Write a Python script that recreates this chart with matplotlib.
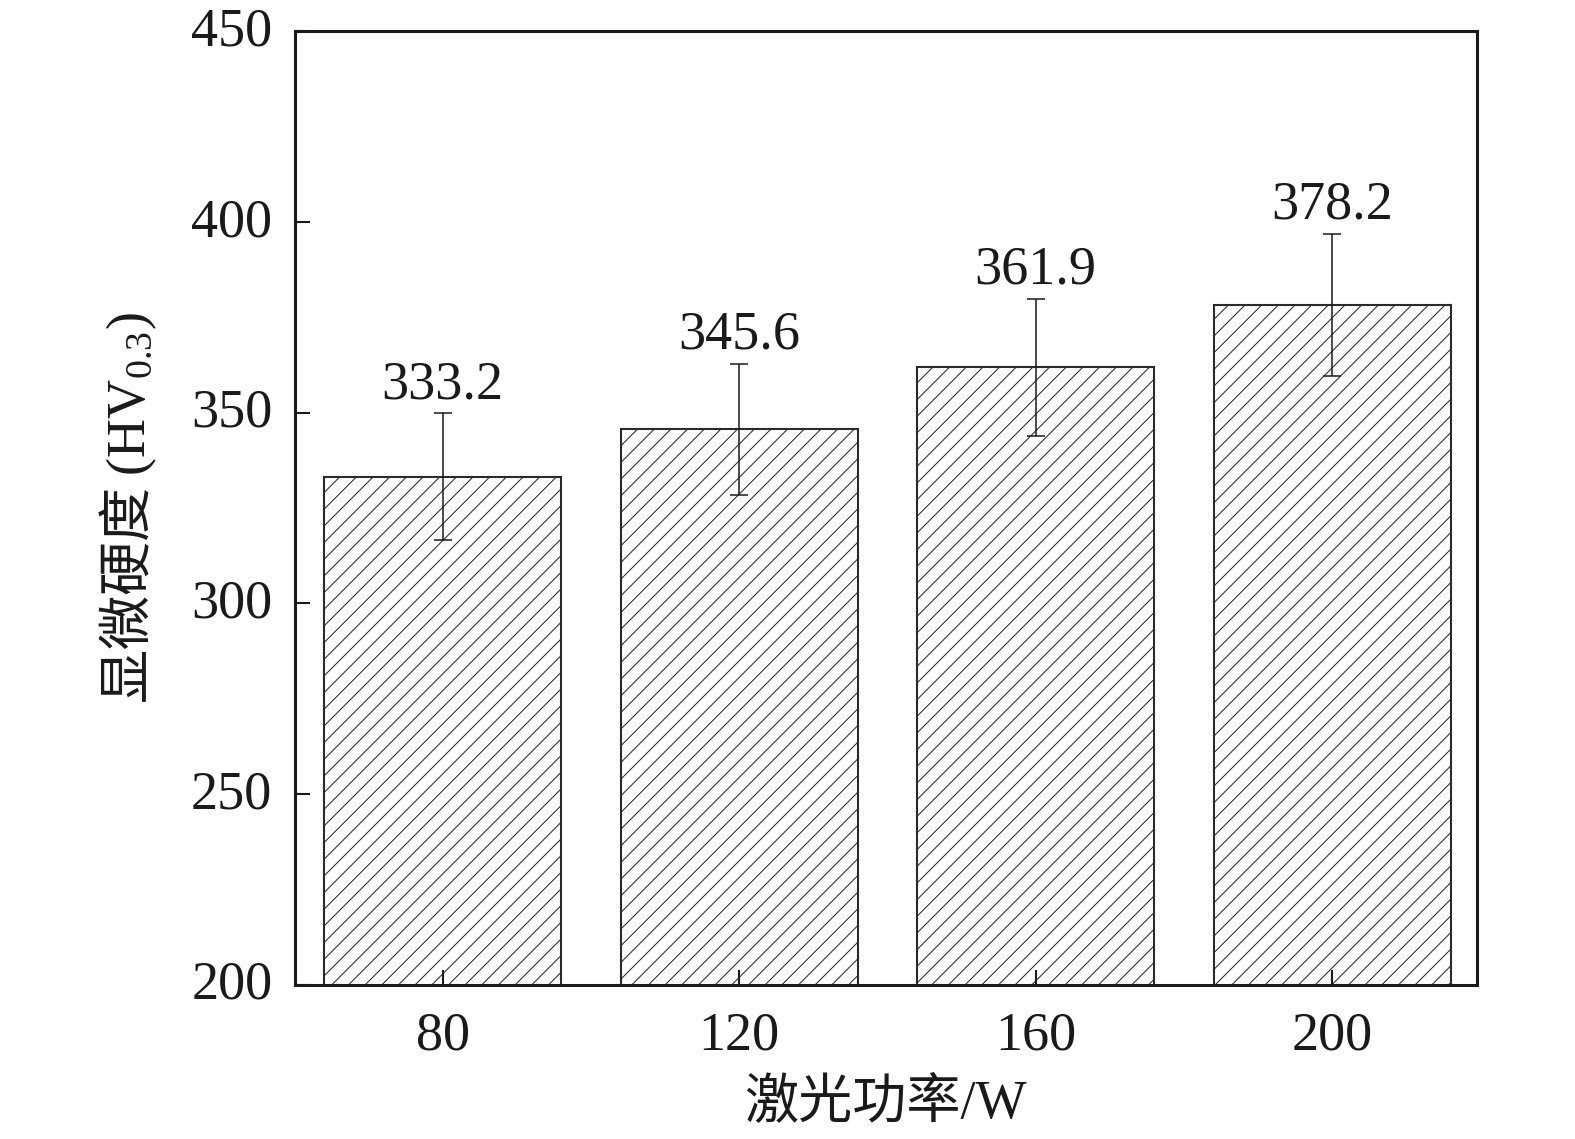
import matplotlib
matplotlib.use("Agg")
import matplotlib.pyplot as plt
from matplotlib.transforms import ScaledTranslation

# data
powers = ["80", "120", "160", "200"]
hardness = [333.2, 345.6, 361.9, 378.2]
errors = [16.6, 17.2, 18.0, 18.7]

plt.rcParams["font.family"] = ["Liberation Serif", "Noto Sans CJK SC"]
plt.rcParams["mathtext.fontset"] = "custom"
plt.rcParams["mathtext.rm"] = "Liberation Serif"
plt.rcParams["mathtext.it"] = "Liberation Serif:italic"
plt.rcParams["mathtext.default"] = "rm"
plt.rcParams["hatch.linewidth"] = 0.75
plt.rcParams["hatch.color"] = "#333333"

fig = plt.figure(figsize=(15.75, 11.39), dpi=100)
ax = fig.add_axes([0.187, 0.1356, 0.751, 0.837])
ax.set_axisbelow(False)

x = list(range(len(powers)))
ax.bar(
    x,
    hardness,
    width=0.8,
    color="white",
    edgecolor="#2a2a2a",
    linewidth=1.5,
    hatch="//",
    zorder=2,
)
ax.errorbar(
    x,
    hardness,
    yerr=errors,
    fmt="none",
    ecolor="#1a1a1a",
    elinewidth=1.1,
    capsize=6.5,
    capthick=1.1,
    zorder=3,
)
for xi, v, e in zip(x, hardness, errors):
    ax.annotate(
        f"{v:.1f}",
        (xi, v + e),
        xytext=(0, 2),
        textcoords="offset points",
        ha="center",
        va="bottom",
        fontsize=39,
        color="#1a1a1a",
    )

ax.set_xlim(-0.5, 3.49)
ax.set_ylim(200, 450)
ax.set_yticks([200, 250, 300, 350, 400, 450])
ax.set_xticks(x)
ax.set_xticklabels(powers)
ax.tick_params(
    axis="both",
    direction="in",
    length=11,
    width=1.5,
    labelsize=39,
    color="#1a1a1a",
    labelcolor="#1a1a1a",
)
ax.tick_params(axis="y", pad=16)
ax.tick_params(axis="x", pad=19)
# nudge y tick labels up a little, like the reference
shift = ScaledTranslation(0, 0.05, fig.dpi_scale_trans)
for lab in ax.get_yticklabels():
    lab.set_transform(lab.get_transform() + shift)
for s in ax.spines.values():
    s.set_linewidth(2.2)
    s.set_color("#1a1a1a")

ax.set_xlabel("激光功率/W", fontsize=39, labelpad=12, color="#1a1a1a")
ax.set_ylabel(
    "显微硬度 $(\\mathrm{HV}_{0.3})$",
    fontsize=39,
    family="Noto Sans CJK SC",
    labelpad=23,
    color="#1a1a1a",
)

fig.savefig("out.png", dpi=100)
